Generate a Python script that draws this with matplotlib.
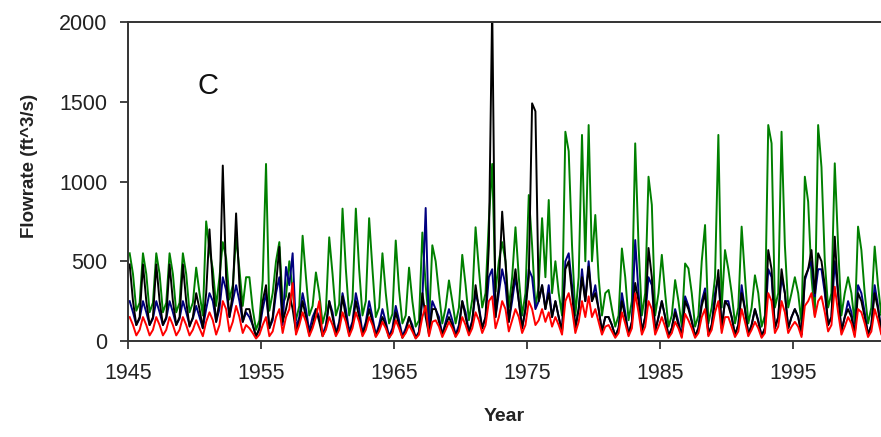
import numpy as np
import matplotlib
matplotlib.use("Agg")
import matplotlib.pyplot as plt

plt.rcParams['font.family'] = ['Liberation Sans', 'DejaVu Sans']

# Quarterly flow values (ft^3/s), one row per year 1945..2001
years = list(range(1945, 2002))

green = [
    [550, 420, 190, 240], [550, 420, 180, 240], [550, 420, 180, 240], [550, 420, 180, 240],
    [550, 420, 180, 240], [460, 300, 160, 750], [570, 450, 220, 400], [620, 520, 260, 350],
    [650, 450, 220, 400], [400, 200, 70, 130], [380, 1110, 190, 300], [500, 620, 230, 280],
    [500, 320, 130, 220], [660, 400, 160, 220], [430, 300, 110, 190], [650, 420, 160, 230],
    [830, 450, 160, 260], [830, 450, 160, 250], [770, 450, 150, 210], [550, 300, 110, 170],
    [630, 320, 110, 160], [460, 250, 90, 130], [680, 350, 110, 600], [500, 300, 110, 210],
    [380, 250, 110, 210], [540, 350, 130, 260], [713, 450, 210, 300], [755, 1110, 310, 500],
    [620, 500, 210, 400], [713, 400, 160, 300], [915, 600, 210, 350], [770, 400, 884, 300],
    [500, 300, 160, 1312], [1190, 600, 160, 400], [1292, 500, 1354, 500], [790, 400, 160, 300],
    [320, 200, 90, 160], [580, 400, 130, 250], [1239, 600, 160, 300], [1030, 853, 160, 300],
    [540, 300, 90, 160], [382, 250, 90, 486], [455, 300, 90, 160], [500, 727, 110, 210],
    [400, 1292, 210, 570], [450, 300, 110, 210], [717, 400, 110, 210], [412, 300, 90, 160],
    [1354, 1239, 210, 300], [1312, 600, 210, 300], [400, 300, 110, 1030], [873, 400, 160, 1354],
    [1090, 500, 210, 300], [1114, 600, 160, 300], [400, 300, 110, 717], [570, 300, 110, 210],
    [592, 350, 160, 210],
]

black = [
    [480, 250, 100, 150], [480, 250, 100, 150], [480, 250, 100, 150], [480, 250, 100, 150],
    [480, 250, 90, 150], [300, 200, 80, 300], [700, 350, 120, 250], [1100, 400, 150, 300],
    [800, 350, 120, 200], [200, 100, 30, 80], [250, 350, 80, 150], [350, 590, 120, 200],
    [300, 200, 60, 120], [250, 150, 40, 100], [200, 120, 30, 80], [250, 150, 40, 100],
    [280, 150, 40, 100], [250, 150, 40, 100], [200, 120, 30, 80], [150, 100, 20, 60],
    [180, 100, 20, 60], [150, 80, 20, 50], [300, 150, 40, 200], [200, 120, 40, 100],
    [150, 100, 30, 80], [250, 150, 50, 120], [350, 200, 80, 150], [600, 2100, 150, 350],
    [811, 500, 120, 300], [450, 250, 80, 200], [400, 1490, 1440, 250], [350, 200, 300, 150],
    [250, 150, 60, 450], [500, 300, 80, 200], [400, 250, 466, 250], [300, 200, 60, 150],
    [150, 100, 30, 80], [250, 150, 40, 120], [364, 250, 60, 150], [583, 400, 60, 150],
    [250, 150, 30, 80], [180, 100, 30, 250], [200, 120, 30, 80], [220, 300, 40, 100],
    [250, 445, 80, 250], [220, 150, 40, 100], [300, 200, 40, 100], [200, 120, 30, 80],
    [570, 450, 80, 150], [450, 300, 80, 150], [200, 150, 40, 400], [450, 570, 300, 550],
    [500, 350, 100, 150], [654, 300, 60, 150], [200, 150, 40, 300], [250, 150, 40, 100],
    [300, 200, 60, 100],
]

blue = [
    [250, 180, 100, 140], [250, 180, 100, 140], [250, 180, 100, 140], [250, 180, 100, 140],
    [250, 180, 100, 140], [220, 150, 80, 200], [300, 250, 120, 200], [400, 320, 150, 250],
    [350, 250, 120, 180], [150, 100, 30, 70], [200, 300, 80, 130], [300, 400, 100, 464],
    [350, 550, 80, 150], [300, 200, 60, 150], [200, 150, 40, 100], [250, 180, 50, 120],
    [300, 200, 60, 120], [300, 200, 50, 120], [250, 150, 40, 100], [200, 120, 30, 80],
    [220, 130, 30, 80], [150, 100, 20, 60], [250, 834, 60, 250], [200, 150, 40, 120],
    [200, 130, 40, 100], [250, 180, 60, 130], [300, 220, 80, 150], [400, 450, 150, 300],
    [450, 350, 120, 250], [400, 250, 80, 200], [450, 400, 200, 250], [350, 200, 350, 150],
    [250, 150, 60, 500], [550, 350, 80, 200], [450, 250, 500, 250], [350, 200, 60, 150],
    [150, 100, 30, 80], [300, 180, 40, 120], [633, 300, 60, 150], [400, 350, 60, 150],
    [250, 150, 30, 80], [200, 120, 30, 280], [220, 130, 30, 80], [250, 330, 40, 100],
    [300, 400, 80, 250], [250, 150, 40, 100], [350, 200, 40, 100], [200, 130, 30, 80],
    [450, 400, 80, 150], [400, 300, 80, 150], [200, 150, 40, 380], [450, 500, 280, 450],
    [450, 300, 100, 150], [500, 300, 60, 150], [250, 180, 40, 350], [300, 180, 40, 100],
    [350, 220, 60, 100],
]

red = [
    [150, 100, 35, 70], [150, 100, 35, 70], [150, 100, 35, 70], [150, 100, 35, 70],
    [150, 100, 35, 70], [130, 80, 30, 120], [180, 130, 40, 100], [250, 200, 60, 120],
    [220, 150, 50, 100], [80, 50, 15, 40], [100, 150, 30, 60], [150, 200, 50, 150],
    [200, 363, 40, 100], [180, 120, 30, 80], [150, 250, 30, 70], [150, 100, 30, 70],
    [180, 120, 30, 80], [180, 120, 30, 70], [150, 100, 25, 60], [120, 80, 20, 50],
    [130, 80, 20, 50], [100, 60, 15, 40], [150, 220, 30, 120], [130, 90, 25, 70],
    [120, 80, 25, 60], [150, 100, 35, 80], [180, 130, 50, 100], [250, 280, 80, 150],
    [250, 200, 60, 130], [200, 150, 50, 100], [250, 200, 100, 130], [200, 120, 180, 90],
    [150, 100, 40, 250], [300, 200, 50, 120], [250, 150, 280, 150], [200, 120, 40, 90],
    [100, 60, 20, 50], [180, 110, 30, 80], [300, 180, 40, 90], [250, 200, 40, 90],
    [150, 90, 20, 50], [120, 80, 20, 170], [130, 80, 20, 50], [150, 200, 30, 70],
    [180, 250, 50, 150], [150, 90, 25, 60], [200, 120, 30, 70], [120, 80, 20, 50],
    [300, 250, 50, 90], [250, 180, 50, 90], [120, 90, 25, 220], [250, 300, 150, 250],
    [280, 180, 60, 100], [340, 180, 40, 90], [150, 110, 25, 200], [180, 110, 25, 60],
    [200, 130, 40, 60],
]

x_ticks = [1945, 1955, 1965, 1975, 1985, 1995]
y_ticks = [0, 500, 1000, 1500, 2000]

W, H = 881, 437
fig = plt.figure(figsize=(W / 100, H / 100), dpi=100)
ax = fig.add_axes([128 / W, 1 - 341 / H, 1 - 128 / W, (341 - 22) / H])


def series_xy(rows):
    vals = np.array(rows, dtype=float).ravel()
    t = years[0] + (np.arange(vals.size) + 0.5) / 4.0
    return t, vals


for rows, col in [(green, '#008000'), (blue, '#000080'), (black, '#000000'), (red, '#ff0000')]:
    t, v = series_xy(rows)
    ax.plot(t, v, color=col, lw=1.4)

ax.set_xlim(1945, 2001.6)
ax.set_ylim(0, 2000)
ax.set_xticks(x_ticks)
ax.set_yticks(y_ticks)
ax.tick_params(axis='both', direction='out', length=6, width=1.2, labelsize=15.5,
               colors='#222222')
ax.tick_params(axis='y', pad=9)
ax.tick_params(axis='x', pad=10)

for s in ['left', 'bottom', 'top']:
    ax.spines[s].set_color('#333333')
    ax.spines[s].set_linewidth(1.4)
ax.spines['right'].set_visible(False)

ax.set_ylabel('Flowrate (ft^3/s)', fontsize=13.5, fontweight='bold', color='#222222')
ax.yaxis.set_label_coords(-0.12, 0.55)
ax.set_xlabel('Year', fontsize=14, fontweight='bold', color='#222222')
ax.xaxis.set_label_coords(0.5, -0.21)

ax.text(0.092, 0.80, 'C', transform=ax.transAxes, fontsize=21, ha='left', va='center',
        color='#111111')

fig.savefig('out.png', dpi=100)
